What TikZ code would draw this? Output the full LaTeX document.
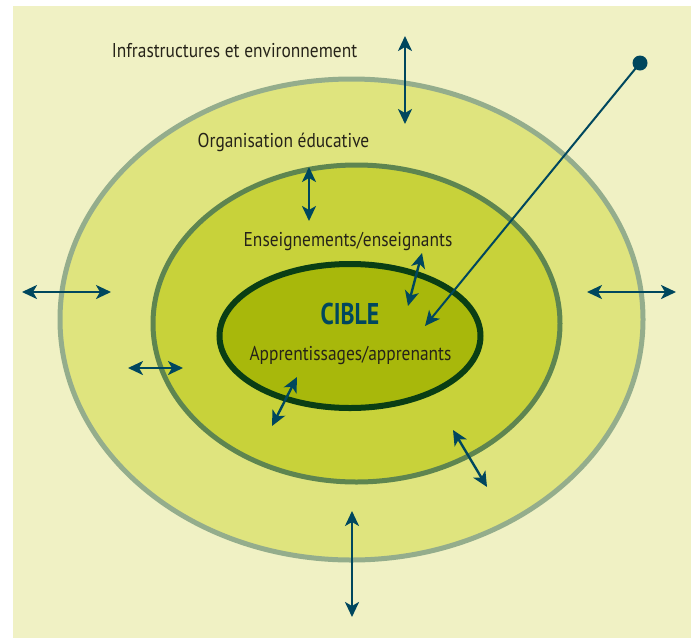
\documentclass[tikz,border=0pt]{standalone}
\usepackage{fontspec}
\setmainfont[FakeStretch=0.87]{PT Sans}
\newfontfamily\ciblefont[FakeStretch=0.79]{PT Sans}
\usetikzlibrary{arrows.meta}
\definecolor{bgc}{RGB}{240,241,196}
\definecolor{outfill}{RGB}{223,228,126}
\definecolor{outdraw}{RGB}{148,173,140}
\definecolor{midfill}{RGB}{200,210,58}
\definecolor{middraw}{RGB}{94,133,80}
\definecolor{infill}{RGB}{168,184,11}
\definecolor{indraw}{RGB}{10,62,20}
\definecolor{arr}{RGB}{0,71,94}
\definecolor{txt}{RGB}{38,35,25}
\tikzset{
  dbl/.style={draw=arr, line width=2.4pt, {Stealth[length=15pt,width=14pt,inset=4pt]}-{Stealth[length=15pt,width=14pt,inset=4pt]}},
  sgl/.style={draw=arr, line width=2pt, -{Stealth[length=15pt,width=14pt,inset=4pt]}},
  lbl/.style={text=txt, font=\fontsize{20}{22}\selectfont, inner sep=0pt, anchor=base},
}
\begin{document}
\begin{tikzpicture}[x=1pt,y=-1pt]
\useasboundingbox (0,0) rectangle (696,638);
\fill[white] (0,0) rectangle (696,638);
\fill[bgc] (13,6) rectangle (691,638);
% ellipses
\draw[fill=outfill, draw=outdraw, line width=5pt] (351.5,319.5) ellipse [x radius=291.5, y radius=240.5];
\draw[fill=midfill, draw=middraw, line width=5pt] (356.5,323.5) ellipse [x radius=203.5, y radius=158.5];
\draw[fill=infill, draw=indraw, line width=6pt] (350,336) ellipse [x radius=130.5, y radius=72];
% labels
\node[lbl] (infra) at (234.5,57) {Infrastructures et environnement};
\node[lbl] (orga) at (283.5,147) {Organisation éducative};
\node[lbl] (ens) at (348,246) {Enseignements/enseignants};
\node[text=arr, font=\ciblefont\bfseries\fontsize{30}{32}\selectfont, inner sep=0pt, anchor=base] (cible) at (350,324) {CIBLE};
\node[lbl] (app) at (350.5,360) {Apprentissages/apprenants};
% arrow end points
\coordinate (a1) at (405,36); \coordinate (b1) at (405,124);
\coordinate (a2) at (309,167); \coordinate (b2) at (309,221);
\coordinate (a3) at (22,292); \coordinate (b3) at (111,292);
\coordinate (a4) at (128,368); \coordinate (b4) at (183,368);
\coordinate (a5) at (587,292); \coordinate (b5) at (676,292);
\coordinate (a6) at (352,511); \coordinate (b6) at (352,617);
\coordinate (a7) at (453,430); \coordinate (b7) at (487,487);
\coordinate (a8) at (297,377); \coordinate (b8) at (272,426);
\coordinate (a9) at (422,253); \coordinate (b9) at (408,306);
\foreach \i in {1,...,9} {\draw[dbl] (a\i) -- (b\i);}
% long pointer
\node[circle, fill=arr, minimum size=15pt, inner sep=0pt] (dot) at (640,63) {};
\coordinate (tip) at (425,326);
\draw[sgl] (dot.center) -- (tip);
\end{tikzpicture}
\end{document}
